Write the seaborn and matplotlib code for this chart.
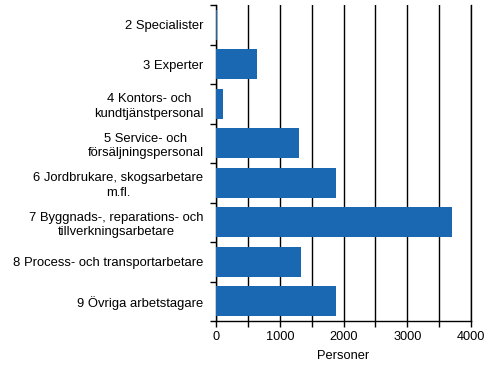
import numpy as np
import pandas as pd
import seaborn as sns
import matplotlib.pyplot as plt
from matplotlib.ticker import MultipleLocator, FuncFormatter

# data
categories = [
    "2 Specialister",
    "3 Experter",
    "4 Kontors- och\nkundtjänstpersonal",
    "5 Service- och\nförsäljningspersonal",
    "6 Jordbrukare, skogsarbetare\nm.fl.",
    "7 Byggnads-, reparations- och\ntillverkningsarbetare",
    "8 Process- och transportarbetare",
    "9 Övriga arbetstagare",
]
personer = [20, 645, 110, 1300, 1880, 3700, 1330, 1885]

df = pd.DataFrame({"yrke": categories, "personer": personer})

plt.rcParams["font.family"] = ["Liberation Sans", "DejaVu Sans"]
plt.rcParams["text.color"] = "black"
plt.rcParams["xtick.color"] = "black"
plt.rcParams["ytick.color"] = "black"

fig = plt.figure(figsize=(4.95, 3.77), dpi=100)
ax = fig.add_axes([0.4364, 0.1485, 0.5152, 0.838])

sns.barplot(data=df, x="personer", y="yrke", order=categories, orient="h",
            color="#1A68B1", saturation=1, width=0.76, linewidth=0,
            ax=ax, zorder=3)

ax.set_xlim(0, 4000)
ax.set_ylim(len(categories) - 0.5, -0.5)
ax.xaxis.set_major_locator(MultipleLocator(500))
ax.xaxis.set_major_formatter(FuncFormatter(lambda v, p: f"{int(v)}" if v % 1000 == 0 else ""))
ax.grid(True, axis="x", color="black", linewidth=1, zorder=0)
ax.grid(False, axis="y")

# y ticks between categories
ax.set_yticks(np.arange(-0.5, len(categories), 1), minor=True)
ax.tick_params(axis="y", which="major", length=0, pad=9, labelsize=9.4)
ax.tick_params(axis="y", which="minor", length=4, width=1, direction="out", left=True)
ax.tick_params(axis="x", which="major", length=4, width=1, direction="out",
               bottom=True, labelsize=9.2, pad=3)
for t in ax.get_yticklabels():
    t.set_multialignment("center")
    t.set_linespacing(1.25)

ax.spines["top"].set_visible(False)
for side in ["left", "bottom", "right"]:
    ax.spines[side].set_color("black")
    ax.spines[side].set_linewidth(1)

ax.set_ylabel("")
ax.set_xlabel("Personer", fontsize=9.3, labelpad=5)

fig.savefig("out.png", dpi=100)
